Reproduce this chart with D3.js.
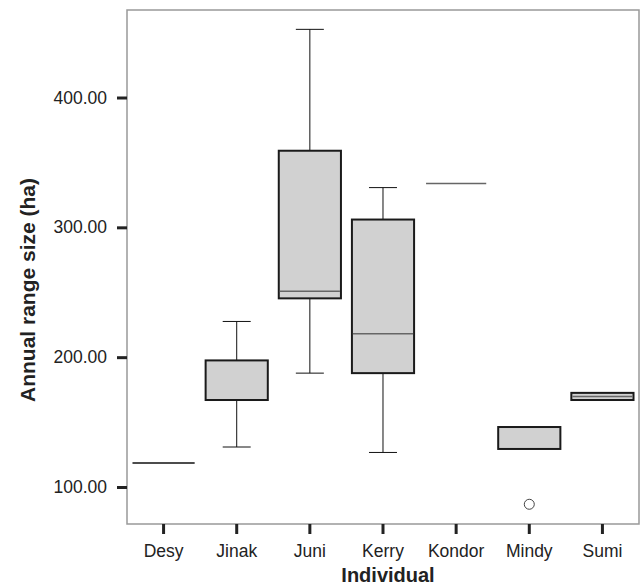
<!DOCTYPE html>
<html>
<head>
<meta charset="utf-8">
<script src="https://cdn.jsdelivr.net/npm/d3@7"></script>
<style>
  body { margin: 0; background: #fff; }
  text { font-family: "Liberation Sans", Arial, sans-serif; fill: #222; }
</style>
</head>
<body>
<script>
// data
var individuals = ["Desy", "Jinak", "Juni", "Kerry", "Kondor", "Mindy", "Sumi"];
var whiskerLow  = [118.5, 130.8, 187.7, 126.6, null, 129.3, 167.0];
var q1          = [118.5, 167.0, 245.3, 187.7, null, 129.3, 167.0];
var median      = [118.5, 167.0, 250.7, 218.0, 333.7, 129.3, 169.7];
var q3          = [118.5, 197.5, 359.0, 306.0, null, 146.2, 172.5];
var whiskerHigh = [118.5, 227.5, 452.5, 330.6, null, 146.2, 172.5];
var outliers    = [[], [], [], [], [], [86.7], []];
var yTicks = [100, 200, 300, 400];

var width = 640, height = 587;
var plotLeft = 127, plotRight = 639, plotTop = 10, plotBottom = 524;

var svg = d3.select("body").append("svg")
    .attr("width", width)
    .attr("height", height);

var x = d3.scaleBand().domain(individuals).range([plotLeft, plotRight]).paddingInner(0.15).paddingOuter(0.075);
var y = d3.scaleLinear().domain([71.5, 467.4]).range([plotBottom, plotTop]);

var data = individuals.map(function(d, i) {
  return {name: d, lo: whiskerLow[i], q1: q1[i], med: median[i], q3: q3[i], hi: whiskerHigh[i], out: outliers[i]};
});

//frame
svg.append("rect")
    .attr("x", plotLeft).attr("y", plotTop)
    .attr("width", plotRight - plotLeft).attr("height", plotBottom - plotTop)
    .attr("fill", "none").attr("stroke", "#999").attr("stroke-width", 1.5);

//axes
var yAxis = svg.append("g")
    .attr("transform", "translate(" + plotLeft + ",0)")
    .call(d3.axisLeft(y).tickValues(yTicks).tickFormat(d3.format(".2f")).tickSize(10).tickPadding(10));
var xAxis = svg.append("g")
    .attr("transform", "translate(0," + plotBottom + ")")
    .call(d3.axisBottom(x).tickSize(10).tickPadding(11));

[yAxis, xAxis].forEach(function(a) {
  a.select(".domain").remove();
  a.selectAll(".tick line").attr("stroke", "#222").attr("stroke-width", 3);
  a.selectAll(".tick text").style("font-size", "17.5px").attr("fill", "#222");
});

var bw = x.bandwidth();
var capW = 28;

var g = svg.selectAll(".box")
    .data(data)
    .enter().append("g")
    .attr("class", "box")
    .attr("transform", function(d) { return "translate(" + x(d.name) + ",0)"; });

//whiskers
g.filter(function(d) { return d.lo != null && d.hi > d.q3; })
  .each(function(d) {
    var s = d3.select(this);
    s.append("line").attr("x1", bw/2).attr("x2", bw/2).attr("y1", y(d.hi)).attr("y2", y(d.q3)).attr("stroke", "#111").attr("stroke-width", 1);
    s.append("line").attr("x1", bw/2 - capW/2).attr("x2", bw/2 + capW/2).attr("y1", y(d.hi)).attr("y2", y(d.hi)).attr("stroke", "#111").attr("stroke-width", 1);
  });
g.filter(function(d) { return d.lo != null && d.lo < d.q1; })
  .each(function(d) {
    var s = d3.select(this);
    s.append("line").attr("x1", bw/2).attr("x2", bw/2).attr("y1", y(d.q1)).attr("y2", y(d.lo)).attr("stroke", "#111").attr("stroke-width", 1);
    s.append("line").attr("x1", bw/2 - capW/2).attr("x2", bw/2 + capW/2).attr("y1", y(d.lo)).attr("y2", y(d.lo)).attr("stroke", "#111").attr("stroke-width", 1);
  });

//boxes
g.filter(function(d) { return d.q1 != null && d.q3 > d.q1; })
  .append("rect")
    .attr("x", 0).attr("width", bw)
    .attr("y", function(d) { return y(d.q3); })
    .attr("height", function(d) { return y(d.q1) - y(d.q3); })
    .attr("fill", "#d1d1d1").attr("stroke", "#1a1a1a").attr("stroke-width", 2);

//medians
g.filter(function(d) { return d.q1 == null || (d.med > d.q1 && d.med < d.q3); })
  .append("line")
    .attr("x1", 1).attr("x2", bw - 1)
    .attr("y1", function(d) { return y(d.med); })
    .attr("y2", function(d) { return y(d.med); })
    .attr("stroke", "#666").attr("stroke-width", 1.5);

//degenerate boxes (all values equal)
g.filter(function(d) { return d.q1 != null && d.q3 == d.q1 && d.hi == d.lo; })
  .append("line")
    .attr("x1", 0).attr("x2", bw)
    .attr("y1", function(d) { return y(d.med); })
    .attr("y2", function(d) { return y(d.med); })
    .attr("stroke", "#111").attr("stroke-width", 1.3);

//outliers
g.selectAll("circle")
    .data(function(d) { return d.out; })
    .enter().append("circle")
    .attr("cx", bw/2)
    .attr("cy", function(d) { return y(d); })
    .attr("r", 5)
    .attr("fill", "#fff").attr("stroke", "#444").attr("stroke-width", 1);

//titles
svg.append("text")
    .attr("transform", "translate(35,290) rotate(-90)")
    .attr("text-anchor", "middle")
    .style("font-size", "21px").style("font-weight", "bold")
    .text("Annual range size (ha)");
svg.append("text")
    .attr("x", 388)
    .attr("y", 582)
    .attr("text-anchor", "middle")
    .style("font-size", "20px").style("font-weight", "bold")
    .text("Individual");
</script>
</body>
</html>
